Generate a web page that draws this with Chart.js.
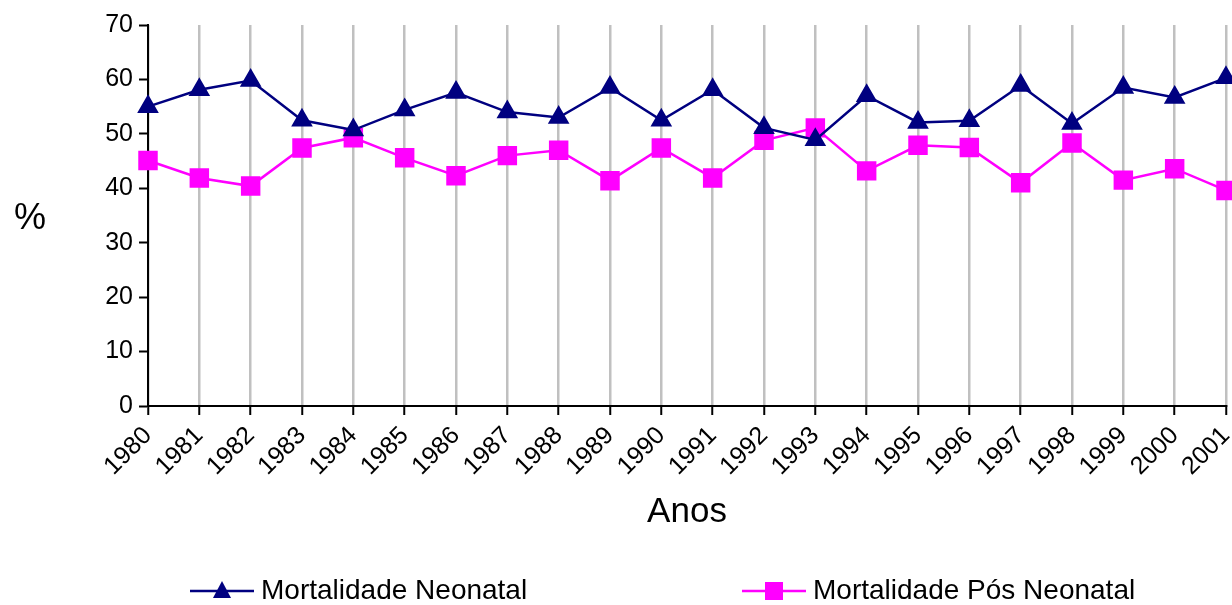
<!DOCTYPE html>
<html>
<head>
<meta charset="utf-8">
<script src="https://cdn.jsdelivr.net/npm/chart.js@4.4.1/dist/chart.umd.min.js"></script>
<style>
  html, body { margin: 0; padding: 0; background: #fff; }
  #wrap { width: 1232px; height: 605px; }
</style>
</head>
<body>
<div id="wrap"><canvas id="c"></canvas></div>
<script>
// anos e percentuais
const anos = ["1980", "1981", "1982", "1983", "1984", "1985", "1986", "1987", "1988", "1989", "1990",
  "1991", "1992", "1993", "1994", "1995", "1996", "1997", "1998", "1999", "2000", "2001"];
const neonatal = [55.0, 58.1, 59.8, 52.5, 50.7, 54.4, 57.6, 54.0, 53.0, 58.5, 52.5,
  58.1, 51.1, 48.9, 57.0, 52.1, 52.4, 58.9, 51.9, 58.5, 56.7, 60.3];
const posNeonatal = [45.1, 41.9, 40.4, 47.4, 49.3, 45.6, 42.3, 46.0, 47.0, 41.4, 47.4,
  41.9, 48.8, 51.1, 43.2, 47.9, 47.5, 41.0, 48.3, 41.5, 43.6, 39.6];
const yTicks = [0, 10, 20, 30, 40, 50, 60, 70];

const NAVY = "#000080";
const PINK = "#FF00FF";
const FONT = "'Liberation Sans', Arial, sans-serif";

// "%" na esquerda e a legenda embaixo (linha + marcador + texto)
const extras = {
  id: "extras",
  afterDraw(chart) {
    const ctx = chart.ctx;
    ctx.save();
    ctx.fillStyle = "#000";
    ctx.font = "36px " + FONT;
    ctx.textAlign = "center";
    ctx.textBaseline = "middle";
    ctx.fillText("%", 30, 219);

    const items = [
      { x: 190, shape: "triangle", ds: chart.data.datasets[0] },
      { x: 742, shape: "rect", ds: chart.data.datasets[1] }
    ];
    const y = 591;
    items.forEach(it => {
      const c = it.ds.borderColor;
      ctx.strokeStyle = c;
      ctx.fillStyle = c;
      ctx.lineWidth = 2.5;
      ctx.beginPath();
      ctx.moveTo(it.x, y);
      ctx.lineTo(it.x + 64, y);
      ctx.stroke();
      const cx = it.x + 32;
      if (it.shape === "triangle") {
        ctx.beginPath();
        ctx.moveTo(cx, y - 10);
        ctx.lineTo(cx + 9, y + 7);
        ctx.lineTo(cx - 9, y + 7);
        ctx.closePath();
        ctx.fill();
      } else {
        ctx.fillRect(cx - 9, y - 9, 18, 18);
      }
      ctx.fillStyle = "#000";
      ctx.font = "28px " + FONT;
      ctx.textAlign = "left";
      ctx.fillText(it.ds.label, it.x + 71, y);
    });
    ctx.restore();
  }
};

new Chart(document.getElementById("c"), {
  type: "line",
  data: {
    labels: anos,
    datasets: [
      {
        label: "Mortalidade Neonatal",
        data: neonatal,
        borderColor: NAVY,
        backgroundColor: NAVY,
        borderWidth: 2.5,
        pointStyle: "triangle",
        pointRadius: 10,
        pointHoverRadius: 10,
        tension: 0,
        clip: false
      },
      {
        label: "Mortalidade Pós Neonatal",
        data: posNeonatal,
        borderColor: PINK,
        backgroundColor: PINK,
        borderWidth: 2.5,
        pointStyle: "rect",
        pointRadius: 12,
        pointHoverRadius: 12,
        tension: 0,
        clip: false
      }
    ]
  },
  options: {
    responsive: true,
    maintainAspectRatio: false,
    animation: false,
    devicePixelRatio: 1,
    layout: { autoPadding: false, padding: { left: 0, right: 6, top: 25, bottom: 67 } },
    scales: {
      x: {
        offset: false,
        grid: { color: "#C0C0C0", lineWidth: 2.5, tickColor: "#000", tickLength: 9, tickWidth: 2 },
        border: { color: "#000", width: 2 },
        ticks: {
          color: "#000",
          font: { family: FONT, size: 25 },
          minRotation: 45,
          maxRotation: 45,
          autoSkip: false,
          padding: 6
        },
        title: {
          display: true,
          text: "Anos",
          color: "#000",
          font: { family: FONT, size: 35 },
          padding: { top: 0, bottom: 5 }
        },
        afterFit(scale) {
          scale.height = 132;
          scale.paddingLeft = 0;
          scale.paddingRight = 0;
        }
      },
      y: {
        min: 0,
        max: 70,
        afterBuildTicks(scale) { scale.ticks = yTicks.map(v => ({ value: v })); },
        grid: { drawOnChartArea: false, tickColor: "#000", tickLength: 9, tickWidth: 2 },
        border: { color: "#000", width: 2 },
        ticks: {
          color: "#000",
          font: { family: FONT, size: 25 },
          autoSkip: false,
          padding: 6
        },
        afterFit(scale) {
          scale.width = 148;
          scale.paddingTop = 0;
          scale.paddingBottom = 0;
        }
      }
    },
    plugins: {
      legend: { display: false },
      tooltip: { enabled: false }
    }
  },
  plugins: [extras]
});
</script>
</body>
</html>
